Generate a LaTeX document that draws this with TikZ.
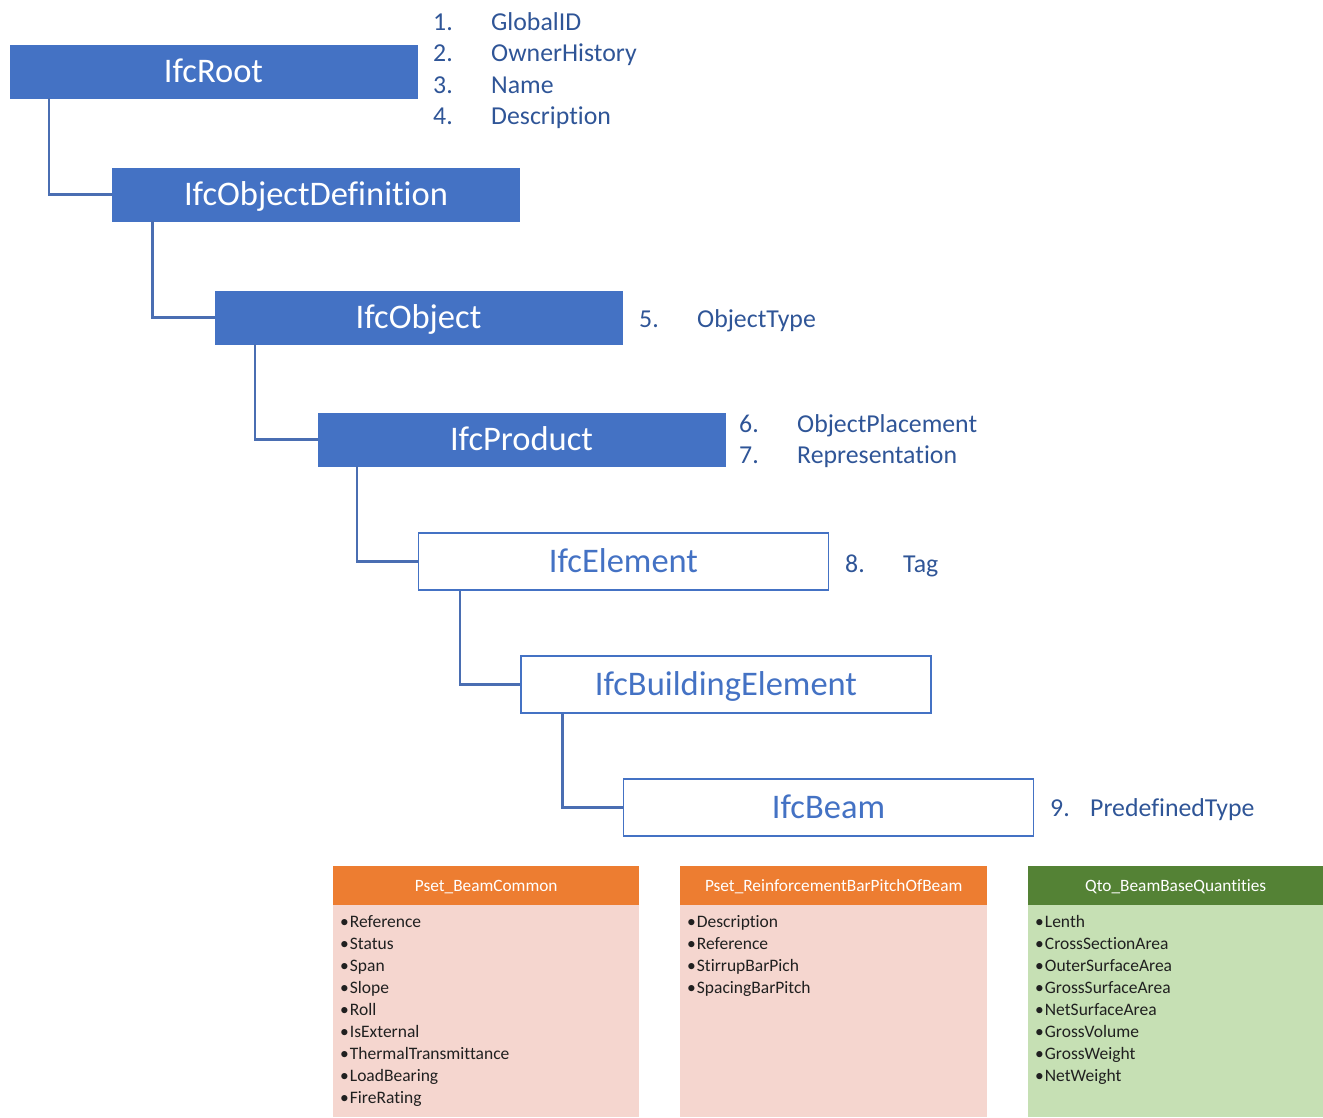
\documentclass[tikz,border=0pt]{standalone}
\usepackage{fontspec}
\setmainfont{Carlito}[Ligatures={NoCommon}]
\definecolor{ifcblue}{HTML}{4472C4}
\definecolor{linkblue}{HTML}{4A6EB2}
\definecolor{labblue}{HTML}{2F5597}
\definecolor{psetorange}{HTML}{ED7D31}
\definecolor{psetpink}{HTML}{F5D6CF}
\definecolor{qtogreen}{HTML}{548235}
\definecolor{qtolight}{HTML}{C6E0B4}
\definecolor{itemgray}{HTML}{202020}
\tikzset{
  classfilled/.style={draw=ifcblue, fill=ifcblue, text=white, minimum width=407pt, minimum height=53pt, inner sep=0pt, text height=22pt, text depth=0pt, font=\fontsize{34.5}{40}\selectfont},
  classopen/.style={draw=ifcblue, line width=1.5pt, fill=white, text=ifcblue, minimum width=410pt, minimum height=57pt, inner sep=0pt, text height=22pt, text depth=0pt, font=\fontsize{34.5}{40}\selectfont},
  link/.style={draw=linkblue, line width=2.5pt},
  attnum/.style={anchor=west, text=labblue, inner sep=0pt, text height=16pt, text depth=0pt, font=\fontsize{25.8}{30}\selectfont},
  atttext/.style={anchor=west, text=labblue, inner sep=0pt, text height=16pt, text depth=0pt, font=\fontsize{25.8}{30}\selectfont},
  sethead/.style={anchor=north west, minimum height=39pt, inner sep=0pt, text height=11pt, text depth=0pt, text=white, font=\fontsize{17.3}{20}\selectfont},
  setitem/.style={anchor=west, inner sep=0pt, text height=11pt, text depth=0pt, text=itemgray, font=\fontsize{17.5}{20}\selectfont},
}
\begin{document}
\begin{tikzpicture}[x=1pt, y=-1pt]
\useasboundingbox (0,0) rectangle (1323,1117);

% class boxes
\node[classfilled] (root) at (213.5,71.5) {IfcRoot};
\node[classfilled] (objdef) at (316,194.5) {IfcObjectDefinition};
\node[classfilled] (object) at (418.5,317.5) {IfcObject};
\node[classfilled] (product) at (521.5,439.5) {IfcProduct};
\node[classopen] (element) at (623.5,561.5) {IfcElement};
\node[classopen] (buildel) at (726,684.5) {IfcBuildingElement};
\node[classopen] (beam) at (828.5,807.5) {IfcBeam};

% connectors
\draw[link] (root.south west) ++(39,0) |- (objdef.west);
\draw[link] (objdef.south west) ++(40,0) |- (object.west);
\draw[link] (object.south west) ++(40,0) |- (product.west);
\draw[link] (product.south west) ++(39,0) |- (element.west);
\draw[link] (element.south west) ++(42,0) |- (buildel.west);
\draw[link] (buildel.south west) ++(42,0) |- (beam.west);

% attribute labels
\node[attnum] (n1) at (433,22) {1.};
\node[atttext] (a1) at (491,22) {GlobalID};
\node[attnum] (n2) at (433,53) {2.};
\node[atttext] (a2) at (491,53) {OwnerHistory};
\node[attnum] (n3) at (433,85) {3.};
\node[atttext] (a3) at (491,85) {Name};
\node[attnum] (n4) at (433,116) {4.};
\node[atttext] (a4) at (491,116) {Description};
\node[attnum] (n5) at (639,319) {5.};
\node[atttext] (a5) at (697,319) {ObjectType};
\node[attnum] (n6) at (739,424) {6.};
\node[atttext] (a6) at (797,424) {ObjectPlacement};
\node[attnum] (n7) at (739,455) {7.};
\node[atttext] (a7) at (797,455) {Representation};
\node[attnum] (n8) at (845,564) {8.};
\node[atttext] (a8) at (903,564) {Tag};
\node[attnum] (n9) at (1050,808) {9.};
\node[atttext] (a9) at (1090,808) {PredefinedType};

% property sets
\fill[psetpink] (333,905) rectangle (639,1117);
\node[sethead, fill=psetorange, minimum width=306pt] (ps1) at (333,866) {Pset\_BeamCommon};
\foreach \t [count=\i] in {Reference,Status,Span,Slope,Roll,IsExternal,ThermalTransmittance,LoadBearing,FireRating}
  \node[setitem] (ps1i\i) at (340,{922+22.05*(\i-1)}) {•\kern1pt\t};

\fill[psetpink] (680,905) rectangle (987,1117);
\node[sethead, fill=psetorange, minimum width=307pt] (ps2) at (680,866) {Pset\_ReinforcementBarPitchOfBeam};
\foreach \t [count=\i] in {Description,Reference,StirrupBarPich,SpacingBarPitch}
  \node[setitem] (ps2i\i) at (687,{922+22.05*(\i-1)}) {•\kern1pt\t};

\fill[qtolight] (1028,905) rectangle (1323,1117);
\node[sethead, fill=qtogreen, minimum width=295pt] (qto) at (1028,866) {Qto\_BeamBaseQuantities};
\foreach \t [count=\i] in {Lenth,CrossSectionArea,OuterSurfaceArea,GrossSurfaceArea,NetSurfaceArea,GrossVolume,GrossWeight,NetWeight}
  \node[setitem] (qtoi\i) at (1035,{922+22.05*(\i-1)}) {•\kern1pt\t};
\end{tikzpicture}
\end{document}
